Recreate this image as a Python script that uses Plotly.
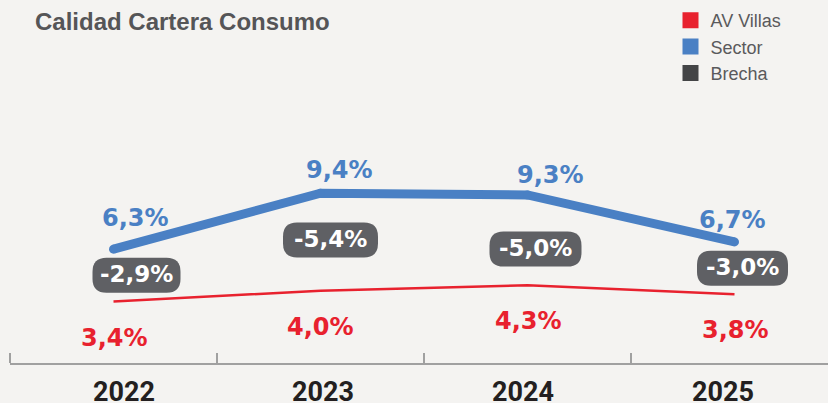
import plotly.graph_objects as go

# ---- data ----
years = ["2022", "2023", "2024", "2025"]
av_villas = [3.4, 4.0, 4.3, 3.8]
sector = [6.3, 9.4, 9.3, 6.7]
brecha = [-2.9, -5.4, -5.0, -3.0]

# ---- styles ----
RED = "#e8212e"
BLUE = "#4a80c4"
DARK = "#5f6064"
LEG_DARK = "#434446"
BG = "#f4f3f1"
PX_PER_UNIT = 18.07
W, H = 828, 403
M_L, M_R, M_T, M_B = 10, 0, 0, 40

# label pixel offsets (style only)
blue_dx = [22, 19, 23, -2]
blue_dy = [31, 23, 20, 22]
red_dx = [1, 0, 1, 1]
red_dy = [36, 36, 36, 36]
box_dx = [23, 10, 8, 8]
box_dy = [0, 2, -9, 0]
box_w = [88, 95, 92, 91]
box_h = 35
box_r = 14
year_dx = [10, 2, -5, -12]


def fmt(v):
    return f"{v:.1f}".replace(".", ",") + "%"


def rounded_rect(cx, cy, w, h, r):
    x0, x1 = cx - w / 2, cx + w / 2
    y0, y1 = cy - h / 2, cy + h / 2
    return (f"M{x0 + r},{y0} L{x1 - r},{y0} Q{x1},{y0} {x1},{y0 + r} "
            f"L{x1},{y1 - r} Q{x1},{y1} {x1 - r},{y1} L{x0 + r},{y1} "
            f"Q{x0},{y1} {x0},{y1 - r} L{x0},{y0 + r} Q{x0},{y0} {x0 + r},{y0} Z")


x = list(range(len(years)))
fig = go.Figure()

fig.add_trace(go.Scatter(x=x, y=sector, mode="lines+markers",
                         line=dict(color=BLUE, width=9),
                         marker=dict(color=BLUE, size=9),
                         showlegend=False, hoverinfo="skip"))
fig.add_trace(go.Scatter(x=x, y=av_villas, mode="lines",
                         line=dict(color=RED, width=2.5),
                         showlegend=False, hoverinfo="skip"))

# legend entries
for name, col in [("AV Villas", RED), ("Sector", BLUE), ("Brecha", LEG_DARK)]:
    fig.add_trace(go.Scatter(x=[None], y=[None], mode="markers", name=name,
                             legendgroup=name,
                             marker=dict(symbol="square", size=19, color=col)))

annotations = []
shapes = []
for i in x:
    annotations.append(dict(x=i, y=sector[i], xref="x", yref="y", text=fmt(sector[i]),
                            showarrow=False, xshift=blue_dx[i], yshift=blue_dy[i],
                            font=dict(family="DejaVu Sans", size=24, color=BLUE, weight="bold")))
    annotations.append(dict(x=i, y=av_villas[i], xref="x", yref="y", text=fmt(av_villas[i]),
                            showarrow=False, xshift=red_dx[i], yshift=-red_dy[i],
                            font=dict(family="DejaVu Sans", size=24, color=RED, weight="bold")))
    mid = (sector[i] + av_villas[i]) / 2
    shapes.append(dict(type="path", xref="x", yref="y", xsizemode="pixel", ysizemode="pixel",
                       xanchor=i, yanchor=mid,
                       path=rounded_rect(box_dx[i], box_dy[i], box_w[i], box_h, box_r),
                       fillcolor=DARK, line=dict(width=0), layer="above"))
    annotations.append(dict(x=i, y=mid, xref="x", yref="y", text=fmt(brecha[i]),
                            showarrow=False, xshift=box_dx[i], yshift=box_dy[i] + 1,
                            font=dict(family="DejaVu Sans", size=23, color="white", weight="bold")))
    # category (year) labels
    annotations.append(dict(x=i, y=0, xref="x", yref="paper", text=years[i],
                            showarrow=False, xshift=year_dx[i], yshift=-29,
                            yanchor="middle",
                            font=dict(family="Roboto", size=27, color="#231f20", weight="bold")))

plot_w = W - M_L - M_R
plot_h = H - M_T - M_B
x_left = -0.5
x_right = x_left + plot_w / 207.0

fig.update_layout(
    width=W, height=H,
    margin=dict(l=M_L, r=M_R, t=M_T, b=M_B, pad=0, autoexpand=False),
    paper_bgcolor=BG, plot_bgcolor=BG,
    title=dict(text="Calidad Cartera Consumo", x=35 / W, xanchor="left",
               y=1 - 22 / H, yanchor="middle", xref="container", yref="container",
               font=dict(family="Liberation Sans", size=24, color="#555557", weight="bold")),
    legend=dict(x=(670.5 - M_L) / plot_w, xanchor="left", y=1 - 2 / plot_h, yanchor="top",
                bgcolor="rgba(0,0,0,0)", tracegroupgap=0,
                font=dict(family="Liberation Sans", size=18, color="#5a5a5c"),
                itemsizing="trace"),
    xaxis=dict(range=[x_left, x_right], tickvals=x, showticklabels=False, ticks="",
               automargin=False,
               showgrid=False, zeroline=False, showline=True, linecolor="#a0a0a0", linewidth=1.5,
               minor=dict(tickvals=[v - 0.5 for v in x], ticks="inside", ticklen=10,
                          tickcolor="#a0a0a0", tickwidth=1.5, showgrid=False)),
    yaxis=dict(range=[0, plot_h / PX_PER_UNIT], visible=False, showgrid=False,
               zeroline=False, automargin=False),
    annotations=annotations, shapes=shapes,
    showlegend=True,
)

fig.write_html("out.html", config={"displayModeBar": False},
               post_script="document.body.style.margin='0';")
